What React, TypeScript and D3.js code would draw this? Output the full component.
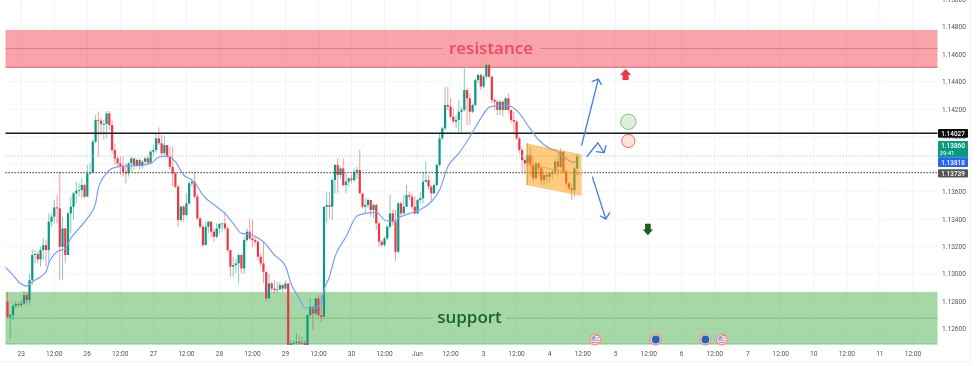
import React from "react";
import * as d3 from "d3";

const W = 977, H = 366;

// Hourly candles. Open of each bar = previous close.
const firstOpen = 1.12798;
const closes = [
1.12689,1.12701,1.12767,1.12781,1.12774,1.12786,1.12847,1.12811,1.12956,1.13139,1.13146,1.13107,1.13175,1.13211,1.13175,1.13382,1.13418,1.13486,1.13479,1.13199,
1.13333,1.13139,1.13442,1.13491,1.13588,1.13608,1.13612,1.13649,1.13564,1.13734,1.13739,1.13965,1.14123,1.14118,1.14094,1.14094,1.14171,1.14086,1.13904,1.13843,
1.13807,1.13782,1.13746,1.13734,1.13807,1.13843,1.13795,1.13831,1.13787,1.13819,1.13843,1.13812,1.13892,1.13904,1.13989,1.13953,1.13880,1.13940,1.13855,1.13782,
1.13734,1.13637,1.13394,1.13491,1.13430,1.13515,1.13661,1.13673,1.13564,1.13406,1.13345,1.13211,1.13345,1.13382,1.13309,1.13272,1.13333,1.13365,1.13369,1.13333,
1.13175,1.13054,1.13066,1.13078,1.13139,1.13041,1.13248,1.13309,1.13260,1.13248,1.13236,1.13127,1.13078,1.13017,1.12823,1.12932,1.12895,1.12883,1.12888,1.12920,
1.12895,1.12932,1.12482,1.12495,1.12499,1.12507,1.12495,1.12499,1.12482,1.12701,1.12762,1.12713,1.12823,1.12701,1.12689,1.13491,1.13503,1.13491,1.13685,1.13795,
1.13722,1.13770,1.13649,1.13673,1.13697,1.13685,1.13746,1.13758,1.13588,1.13491,1.13503,1.13540,1.13467,1.13503,1.13369,1.13236,1.13211,1.13260,1.13345,1.13442,
1.13382,1.13163,1.13515,1.13442,1.13491,1.13576,1.13564,1.13491,1.13442,1.13540,1.13552,1.13673,1.13685,1.13637,1.13588,1.13649,1.13795,1.13989,1.14062,1.14232,
1.14220,1.14147,1.14111,1.14123,1.14183,1.14196,1.14341,1.14281,1.14183,1.14232,1.14414,1.14451,1.14366,1.14439,1.14524,1.14439,1.14269,1.14256,1.14196,1.14256,
1.14196,1.14281,1.14196,1.14123,1.14111,1.13989,1.13904,1.13831,1.13807,1.13868,1.13795,1.13697,1.13807,1.13770,1.13685,1.13722,1.13710,1.13734,1.13746,1.13819,
1.13782,1.13892,1.13746,1.13661,1.13625,1.13612,1.13770,1.13860];
const highs = [
1.12871,1.12713,1.12786,1.12798,1.12798,1.12811,1.12879,1.12871,1.13000,1.13180,1.13175,1.13163,1.13199,1.13260,1.13248,1.13442,1.13442,1.13540,1.13576,1.13746,
1.13418,1.13333,1.13454,1.13564,1.13600,1.13673,1.13661,1.13697,1.13661,1.13795,1.13807,1.13977,1.14159,1.14183,1.14135,1.14123,1.14188,1.14188,1.14123,1.13953,
1.13860,1.13855,1.13860,1.13807,1.13819,1.13855,1.13843,1.13843,1.13843,1.13831,1.13855,1.13868,1.13904,1.13940,1.14026,1.14069,1.14013,1.14006,1.13940,1.13928,
1.13928,1.13746,1.13649,1.13503,1.13503,1.13588,1.13673,1.13697,1.13746,1.13588,1.13418,1.13357,1.13382,1.13389,1.13382,1.13333,1.13369,1.13374,1.13374,1.13454,
1.13345,1.13175,1.13127,1.13114,1.13151,1.13151,1.13272,1.13333,1.13406,1.13399,1.13272,1.13248,1.13151,1.13236,1.13017,1.13005,1.12944,1.12956,1.12944,1.12944,
1.12932,1.12956,1.12932,1.12519,1.12519,1.12568,1.12556,1.12543,1.12519,1.12713,1.12823,1.12762,1.12823,1.12847,1.12847,1.13491,1.13600,1.13600,1.13697,1.13802,
1.13843,1.13782,1.13843,1.13734,1.13709,1.13722,1.13770,1.13782,1.13904,1.13588,1.13552,1.13552,1.13527,1.13515,1.13515,1.13382,1.13248,1.13272,1.13357,1.13576,
1.13467,1.13467,1.13527,1.13527,1.13576,1.13649,1.13600,1.13588,1.13564,1.13552,1.13600,1.13746,1.13819,1.13722,1.13649,1.13661,1.13807,1.14026,1.14074,1.14366,
1.14366,1.14281,1.14208,1.14159,1.14269,1.14220,1.14499,1.14354,1.14317,1.14244,1.14426,1.14458,1.14463,1.14451,1.14536,1.14536,1.14439,1.14281,1.14269,1.14269,
1.14264,1.14288,1.14317,1.14196,1.14183,1.14123,1.14001,1.13928,1.13855,1.13953,1.13928,1.13855,1.13819,1.13795,1.13782,1.13734,1.13729,1.13746,1.13758,1.13843,
1.13892,1.13916,1.13880,1.13758,1.13673,1.13661,1.13782,1.13875];
const lows = [
1.12677,1.12531,1.12665,1.12750,1.12757,1.12757,1.12781,1.12774,1.12786,1.12920,1.13078,1.13078,1.13054,1.13102,1.13054,1.13078,1.13345,1.13369,1.13369,1.12956,
1.12956,1.13078,1.13139,1.13297,1.13394,1.13515,1.13564,1.13552,1.13552,1.13649,1.13722,1.13734,1.13953,1.13855,1.14013,1.13982,1.13989,1.14050,1.13880,1.13795,
1.13782,1.13722,1.13710,1.13661,1.13710,1.13746,1.13758,1.13782,1.13758,1.13770,1.13795,1.13795,1.13802,1.13855,1.13885,1.13940,1.13860,1.13868,1.13843,1.13758,
1.13637,1.13625,1.13345,1.13382,1.13382,1.13418,1.13503,1.13637,1.13552,1.13394,1.13333,1.13199,1.13224,1.13297,1.13272,1.13236,1.13260,1.13297,1.13309,1.13321,
1.13163,1.12981,1.12981,1.13005,1.12932,1.13005,1.13000,1.13236,1.13248,1.13199,1.13211,1.13102,1.13054,1.12932,1.12806,1.12816,1.12871,1.12859,1.12859,1.12883,
1.12871,1.12883,1.12458,1.12458,1.12458,1.12458,1.12458,1.12458,1.12458,1.12470,1.12689,1.12592,1.12701,1.12689,1.12653,1.12689,1.13369,1.13406,1.13394,1.13588,
1.13588,1.13697,1.13637,1.13588,1.13637,1.13661,1.13673,1.13697,1.13588,1.13479,1.13442,1.13479,1.13418,1.13406,1.13321,1.13199,1.13199,1.13199,1.13248,1.13333,
1.13357,1.13097,1.13151,1.13418,1.13442,1.13491,1.13540,1.13467,1.13430,1.13437,1.13515,1.13515,1.13673,1.13612,1.13527,1.13588,1.13637,1.13782,1.13977,1.14050,
1.14196,1.14135,1.14098,1.14062,1.14026,1.14026,1.14183,1.14086,1.14086,1.14171,1.14220,1.14390,1.14341,1.14354,1.14426,1.14426,1.14244,1.14196,1.14159,1.14159,
1.14147,1.14196,1.14171,1.14098,1.14026,1.13977,1.13880,1.13746,1.13739,1.13649,1.13710,1.13673,1.13697,1.13710,1.13649,1.13649,1.13661,1.13661,1.13697,1.13722,
1.13722,1.13770,1.13734,1.13637,1.13612,1.13544,1.13564,1.13722];

// Blue moving average.
const maBars = [-1,2,4,7,9,14,15,18,21,23,26,29,32,33,36,38,42,47,52,55,58,61,64,67,68,71,76,79,82,85,88,93,97,101,103,106,108,111,114,115,117,119,123,127,130,134,137,140,143,147,150,154,157,160,164,168,172,175,178,182,186,189,193,197,200,203,205,207];
const maPrices = [1.13054,1.12993,1.12944,1.12913,1.12944,1.13017,1.13078,1.13163,1.13187,1.13260,1.13333,1.13406,1.13515,1.13625,1.13734,1.13770,1.13787,1.13790,1.13807,1.13851,1.13860,1.13819,1.13722,1.13685,1.13666,1.13576,1.13491,1.13442,1.13369,1.13297,1.13289,1.13236,1.13139,1.13058,1.12932,1.12823,1.12755,1.12750,1.12786,1.12883,1.12981,1.13127,1.13272,1.13423,1.13442,1.13450,1.13394,1.13382,1.13418,1.13447,1.13471,1.13527,1.13612,1.13782,1.13880,1.14001,1.14135,1.14215,1.14225,1.14225,1.14171,1.14086,1.13977,1.13916,1.13892,1.13843,1.13818,1.13818];

const priceTicks = [1.15,1.148,1.146,1.144,1.142,1.14,1.138,1.136,1.134,1.132,1.13,1.128,1.126];
const timeLabels = ["23","12:00","26","12:00","27","12:00","28","12:00","29","12:00","30","12:00","Jun","12:00","3","12:00","4","12:00","5","12:00","6","12:00","7","12:00","10","12:00","11","12:00"];
const firstTickBar = 5, barsPerTick = 12;

const resistanceZone = [1.14779, 1.14507];
const supportZone = [1.12867, 1.12491];
const lineBlack = 1.14027, lineLast = 1.1386, lineMa = 1.13818, lineDotted = 1.13739;

const channelBars = [188.4, 208.6];
const channelTop = [1.13953, 1.13873];
const channelMid = [1.13802, 1.13722];
const channelBottom = [1.13649, 1.13569];

const arrows: [number, number][][] = [
  [[208.6,1.13936],[214.7,1.14421]],
  [[212.3,1.14402],[214.7,1.14421],[215.9,1.14378]],
  [[210.5,1.13855],[214.5,1.13957],[216.8,1.13885]],
  [[213.8,1.13892],[216.8,1.13885],[217.5,1.1394]],
  [[212.5,1.1371],[217.4,1.13401]],
  [[215.3,1.13425],[217.4,1.13401],[218.9,1.1345]],
];
const upArrow = [224.6, 1.14454];
const downArrow = [232.7, 1.13325];
const greenCircle = [225.6, 1.1411];
const redCircle = [225.6, 1.1397];
const usEvents = [213.5, 259.6];
const euEvents = [235.6, 253.6];

const GREEN = "#089981", RED = "#f23645";
const FONT = "Roboto, 'Open Sans', sans-serif";

export default function App() {
  const x = d3.scaleLinear().domain([0, 329]).range([7.5, 912.9]);
  const y = d3.scaleLinear().domain([1.126, 1.146]).range([329, 54.5]);
  const left = 5.5, right = 937.5, bottom = 345;
  const line = d3.line<[number, number]>().x(d => x(d[0])).y(d => y(d[1]));
  const ma = d3.line<number>().x((_, i) => x(maBars[i])).y(d => y(d)).curve(d3.curveMonotoneX);
  const boxLabel = (yTop: number, h: number, fill: string, text: string) => (
    <g>
      <rect x={938} y={yTop} width={30} height={h} fill={fill} rx={0.8} />
      <text x={953} y={yTop + h / 2 + 2.3} textAnchor="middle" fontSize={6.4} fontWeight={500} fill="#fff" fontFamily={FONT}>{text}</text>
    </g>
  );
  const channelPath = `M${x(channelBars[0])},${y(channelTop[0])}L${x(channelBars[1])},${y(channelTop[1])}L${x(channelBars[1])},${y(channelBottom[1])}L${x(channelBars[0])},${y(channelBottom[0])}Z`;
  return (
    <svg width={W} height={H} viewBox={`0 0 ${W} ${H}`} style={{ position: "absolute", left: 0, top: 0, display: "block", background: "#fff" }}>
      <defs>
        <filter id="soft" filterUnits="userSpaceOnUse" x={0} y={0} width={W} height={H}>
          <feGaussianBlur stdDeviation={0.42} />
        </filter>
        <clipPath id="plot"><rect x={left} y={0} width={right - left} height={bottom} /></clipPath>
      </defs>
      <g filter="url(#soft)">
        {/* grid */}
        {timeLabels.map((_, i) => {
          const gx = x(firstTickBar + i * barsPerTick);
          return <line key={i} x1={gx} x2={gx} y1={0} y2={bottom} stroke="#f1f2f4" strokeWidth={0.8} />;
        })}
        {priceTicks.map(p => <line key={p} x1={left} x2={right} y1={y(p)} y2={y(p)} stroke="#f1f2f4" strokeWidth={0.8} />)}
        <line x1={970} x2={970} y1={0} y2={362} stroke="#eeeef0" strokeWidth={1} />
        <line x1={0} x2={970} y1={362} y2={362} stroke="#f3f3f4" strokeWidth={1} />

        {/* zones */}
        <rect x={left} width={right - left} y={y(resistanceZone[0])} height={y(resistanceZone[1]) - y(resistanceZone[0])} fill={RED} fillOpacity={0.45} />
        <line x1={left} x2={right} y1={y(resistanceZone[1])} y2={y(resistanceZone[1])} stroke="#df5e6c" strokeWidth={1} />
        <line x1={left} x2={443} y1={y(d3.mean(resistanceZone)!)} y2={y(d3.mean(resistanceZone)!)} stroke="#e27682" strokeWidth={1} />
        <line x1={540} x2={right} y1={y(d3.mean(resistanceZone)!)} y2={y(d3.mean(resistanceZone)!)} stroke="#e27682" strokeWidth={1} />
        <rect x={left} width={right - left} y={y(supportZone[0])} height={y(supportZone[1]) - y(supportZone[0])} fill="#4caf50" fillOpacity={0.5} />
        <line x1={left} x2={right} y1={y(supportZone[0])} y2={y(supportZone[0])} stroke="#a5d8a7" strokeWidth={1} />
        <line x1={left} x2={right} y1={y(supportZone[1])} y2={y(supportZone[1])} stroke="#7cc580" strokeWidth={1} />
        <line x1={left} x2={433} y1={y(d3.mean(supportZone)!)} y2={y(d3.mean(supportZone)!)} stroke="#7cc580" strokeWidth={1.2} />
        <line x1={506} x2={right} y1={y(d3.mean(supportZone)!)} y2={y(d3.mean(supportZone)!)} stroke="#7cc580" strokeWidth={1.2} />

        {/* candles */}
        <g clipPath="url(#plot)">
          {closes.map((c, i) => {
            const o = i === 0 ? firstOpen : closes[i - 1];
            const col = c >= o ? GREEN : RED;
            const cx = x(i);
            const top = y(Math.max(o, c));
            const h = Math.max(y(Math.min(o, c)) - top, 0.8);
            return (
              <g key={i}>
                <line x1={cx} x2={cx} y1={y(highs[i])} y2={y(lows[i])} stroke={col} strokeOpacity={0.5} strokeWidth={1} />
                <rect x={cx - 1.1} width={2.2} y={top} height={h} fill={col} />
              </g>
            );
          })}
        </g>

        {/* horizontal levels */}
        <line x1={left} x2={right} y1={y(lineLast)} y2={y(lineLast)} stroke="#8fd8c8" strokeWidth={0.8} strokeDasharray="1.5 1.5" />
        <line x1={left} x2={right} y1={y(lineDotted)} y2={y(lineDotted)} stroke="#444" strokeWidth={1.1} strokeDasharray="1.3 1.7" />
        <line x1={left} x2={right} y1={y(lineBlack)} y2={y(lineBlack)} stroke="#1a1a1a" strokeWidth={1.5} />

        {/* moving average */}
        <path d={ma(maPrices) ?? ""} fill="none" stroke="#7b9ff5" strokeWidth={1.2} clipPath="url(#plot)" />

        {/* channel */}
        <path d={channelPath} fill="#ff9800" fillOpacity={0.5} />
        <line x1={x(channelBars[0])} x2={x(channelBars[1])} y1={y(channelMid[0])} y2={y(channelMid[1])} stroke="#f59a2a" strokeWidth={0.8} />

        {/* arrows */}
        {arrows.map((a, i) => <path key={i} d={line(a) ?? ""} fill="none" stroke="#3f7af0" strokeWidth={1.3} />)}
        <g transform={`translate(${x(upArrow[0])},${y(upArrow[1])})`}>
          <path d="M0,-5.5L5.5,0.5H3V5.5H-3V0.5H-5.5Z" fill={RED} />
        </g>
        <g transform={`translate(${x(downArrow[0])},${y(downArrow[1])})`}>
          <path d="M0,5.8L5.2,0H2.8V-5.8H-2.8V0H-5.2Z" fill="#1b5e20" />
        </g>
        <circle cx={x(greenCircle[0])} cy={y(greenCircle[1])} r={7.7} fill="#dcefdc" stroke="#7cc47f" strokeWidth={1} />
        <circle cx={x(redCircle[0])} cy={y(redCircle[1])} r={6.6} fill="#fde6cf" stroke="#ef5f6b" strokeWidth={1} />

        {/* zone labels */}
        <text x={491} y={y(d3.mean(resistanceZone)!) + 5.5} textAnchor="middle" fontSize={17} fill="#f4475f" fontFamily="'Open Sans', sans-serif" fontWeight={600}>resistance</text>
        <text x={469.5} y={y(d3.mean(supportZone)!) + 5} textAnchor="middle" fontSize={17} fill="#1b6427" fontFamily="'Open Sans', sans-serif" fontWeight={600}>support</text>

        {/* events */}
        {usEvents.map(b => (
          <g key={b} transform={`translate(${x(b)},339.5)`}>
            <circle r={5.4} fill="#fff" stroke="#f58d96" strokeWidth={1.3} />
            <path d="M-3.8,-1.6A4.2,4.2 0 0 1 0,-4.2V0H-4.2Z" fill="#6fb0ee" />
            <path d="M0,-3.9H3M0,-1.5H4M-4,0.8H4M-3,3H3" stroke="#f0717b" strokeWidth={1} fill="none" />
          </g>
        ))}
        {euEvents.map(b => (
          <g key={b} transform={`translate(${x(b)},339.5)`}>
            <circle r={5.4} fill="#eef2f8" stroke="#f58d96" strokeWidth={1.3} />
            <circle r={3.9} fill="#1a65b8" />
          </g>
        ))}

        {/* price axis */}
        {priceTicks.map(p => (
          <text key={p} x={954} y={y(p) + 2.3} textAnchor="middle" fontSize={6.6} fill="#555" fontFamily={FONT}>{p.toFixed(5)}</text>
        ))}
        {boxLabel(129, 8.8, "#0d0d0d", lineBlack.toFixed(5))}
        <rect x={938} y={141} width={30} height={16.8} fill={GREEN} />
        <text x={953} y={147.9} textAnchor="middle" fontSize={6.4} fill="#fff" fontWeight={500} fontFamily={FONT}>{closes[closes.length - 1].toFixed(5)}</text>
        <text x={947} y={155.2} textAnchor="middle" fontSize={6} fill="#fff" fontFamily={FONT}>39:41</text>
        {boxLabel(157.8, 9.2, "#2962ff", lineMa.toFixed(5))}
        {boxLabel(169.2, 8.2, "#555555", lineDotted.toFixed(5))}

        {/* time axis */}
        {timeLabels.map((t, i) => (
          <text key={i} x={x(firstTickBar + i * barsPerTick)} y={356} textAnchor="middle" fontSize={6.6} fill="#555" fontFamily={FONT}>{t}</text>
        ))}
      </g>
    </svg>
  );
}
